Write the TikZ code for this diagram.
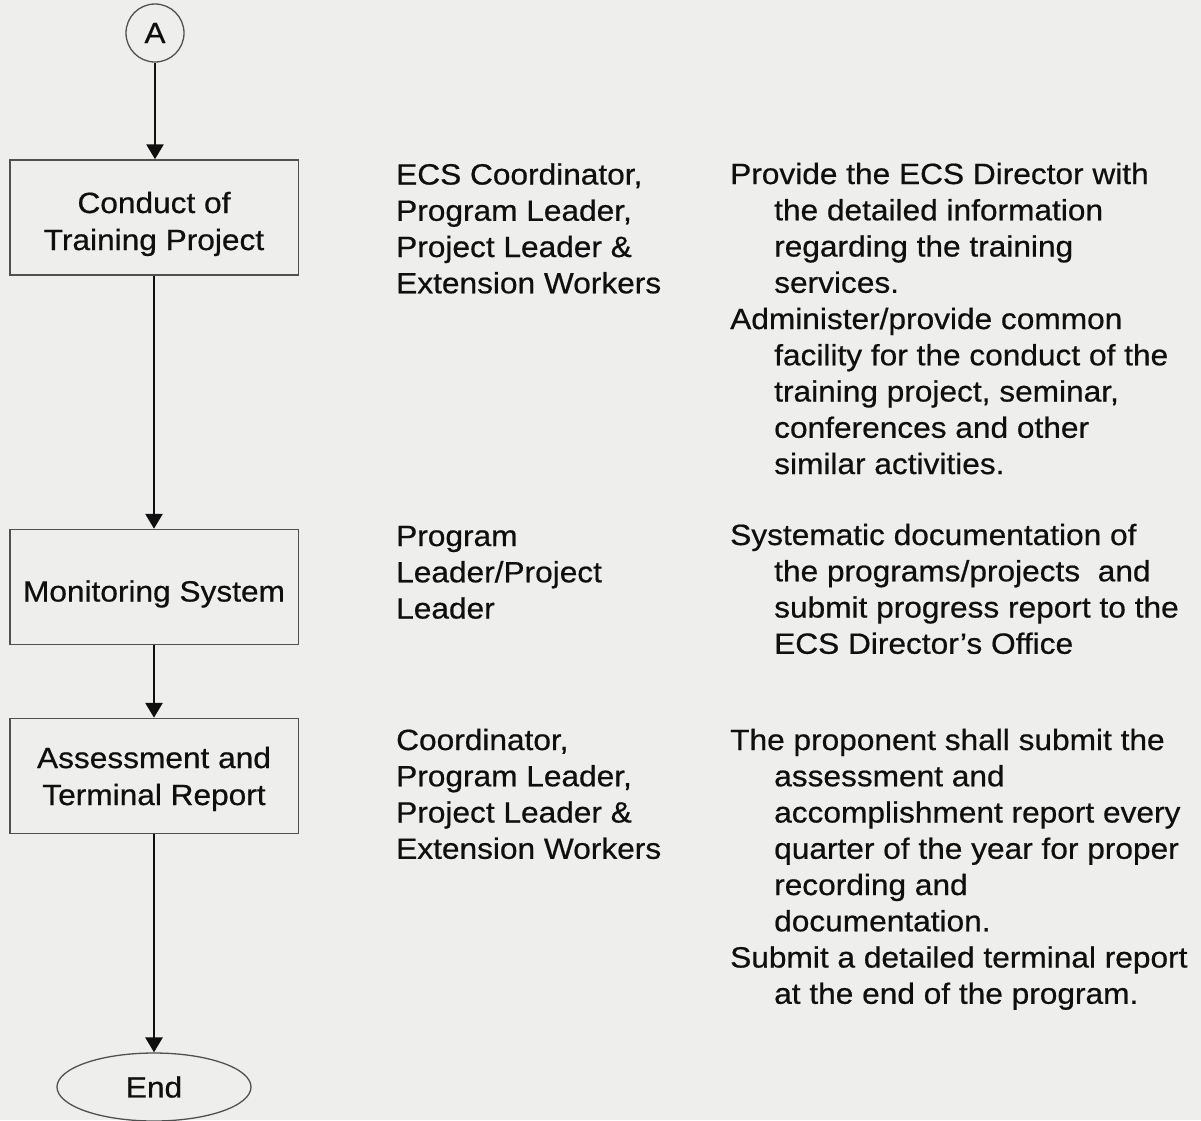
\documentclass[tikz,border=0pt]{standalone}
\usepackage{fontspec}
\newfontfamily\diagfont{Liberation Sans}[FakeStretch=1.08,FakeBold=0.6]
\usetikzlibrary{arrows.meta,shapes.geometric}
\definecolor{paper}{RGB}{238,238,236}
\definecolor{ink}{RGB}{15,15,15}
\definecolor{edge}{RGB}{80,80,80}
\newcommand\hind{\hspace*{44pt}}
\tikzset{
  txt/.style={font=\diagfont\fontsize{29.3}{36.25}\selectfont, text=ink, inner sep=0pt, anchor=base west},
  boxtxt/.style={font=\diagfont\fontsize{29.3}{37}\selectfont, text=ink, inner sep=0pt, anchor=base},
  stepbox/.style={draw=edge, line width=1.5pt, minimum width=288.5pt, minimum height=115pt, inner sep=0pt},
  flow/.style={draw=ink, line width=2.8pt, -{Triangle[width=17pt,length=15pt]}},
  term/.style={draw=edge, line width=1.3pt, font=\diagfont\fontsize{29.3}{36}\selectfont, text=ink, inner sep=0pt}
}
\begin{document}
\begin{tikzpicture}[x=1pt,y=-1pt]
\fill[paper] (0,0) rectangle (1201,1120);
\useasboundingbox (0,0) rectangle (1201,1120);

% flow column
\node[term, circle, minimum size=58pt] (a) at (155,33) {A};
\node[stepbox] (b1) at (154,217.5) {};
\node[stepbox] (b2) at (154,587) {};
\node[stepbox] (b3) at (154,776) {};
\node[term, ellipse, minimum width=194pt, minimum height=68pt] (e) at (154,1087) {End};

\node[boxtxt] (t1) at (154,213) {\begin{tabular}[t]{@{}c@{}}Conduct of\\Training Project\end{tabular}};
\node[boxtxt] (t2) at (154,601.5) {Monitoring System};
\node[boxtxt] (t3) at (154,768) {\begin{tabular}[t]{@{}c@{}}Assessment and\\Terminal Report\end{tabular}};

\draw[flow] (a.south) -- (a.south |- b1.north);
\draw[flow] (b1.south) -- (b2.north);
\draw[flow] (b2.south) -- (b3.north);
\draw[flow] (b3.south) -- (e.north);

% responsible persons
\node[txt] (p1) at (396,184.5) {\begin{tabular}[t]{@{}l@{}}ECS Coordinator,\\Program Leader,\\Project Leader \&\\Extension Workers\end{tabular}};
\node[txt] (p2) at (396,546) {\begin{tabular}[t]{@{}l@{}}Program\\Leader/Project\\Leader\end{tabular}};
\node[txt] (p3) at (396,750) {\begin{tabular}[t]{@{}l@{}}Coordinator,\\Program Leader,\\Project Leader \&\\Extension Workers\end{tabular}};

% activities
\node[txt] (d1) at (730,184) {\begin{tabular}[t]{@{}l@{}}Provide the ECS Director with\\
\hind the detailed information\\
\hind regarding the training\\
\hind services.\\
Administer/provide common\\
\hind facility for the conduct of the\\
\hind training project, seminar,\\
\hind conferences and other\\
\hind similar activities.\end{tabular}};
\node[txt] (d2) at (730,545) {\begin{tabular}[t]{@{}l@{}}Systematic documentation of\\
\hind the programs/projects\ \ and\\
\hind submit progress report to the\\
\hind ECS Director’s Office\end{tabular}};
\node[txt] (d3) at (730,750) {\begin{tabular}[t]{@{}l@{}}The proponent shall submit the\\
\hind assessment and\\
\hind accomplishment report every\\
\hind quarter of the year for proper\\
\hind recording and\\
\hind documentation.\\
Submit a detailed terminal report\\
\hind at the end of the program.\end{tabular}};
\end{tikzpicture}
\end{document}
